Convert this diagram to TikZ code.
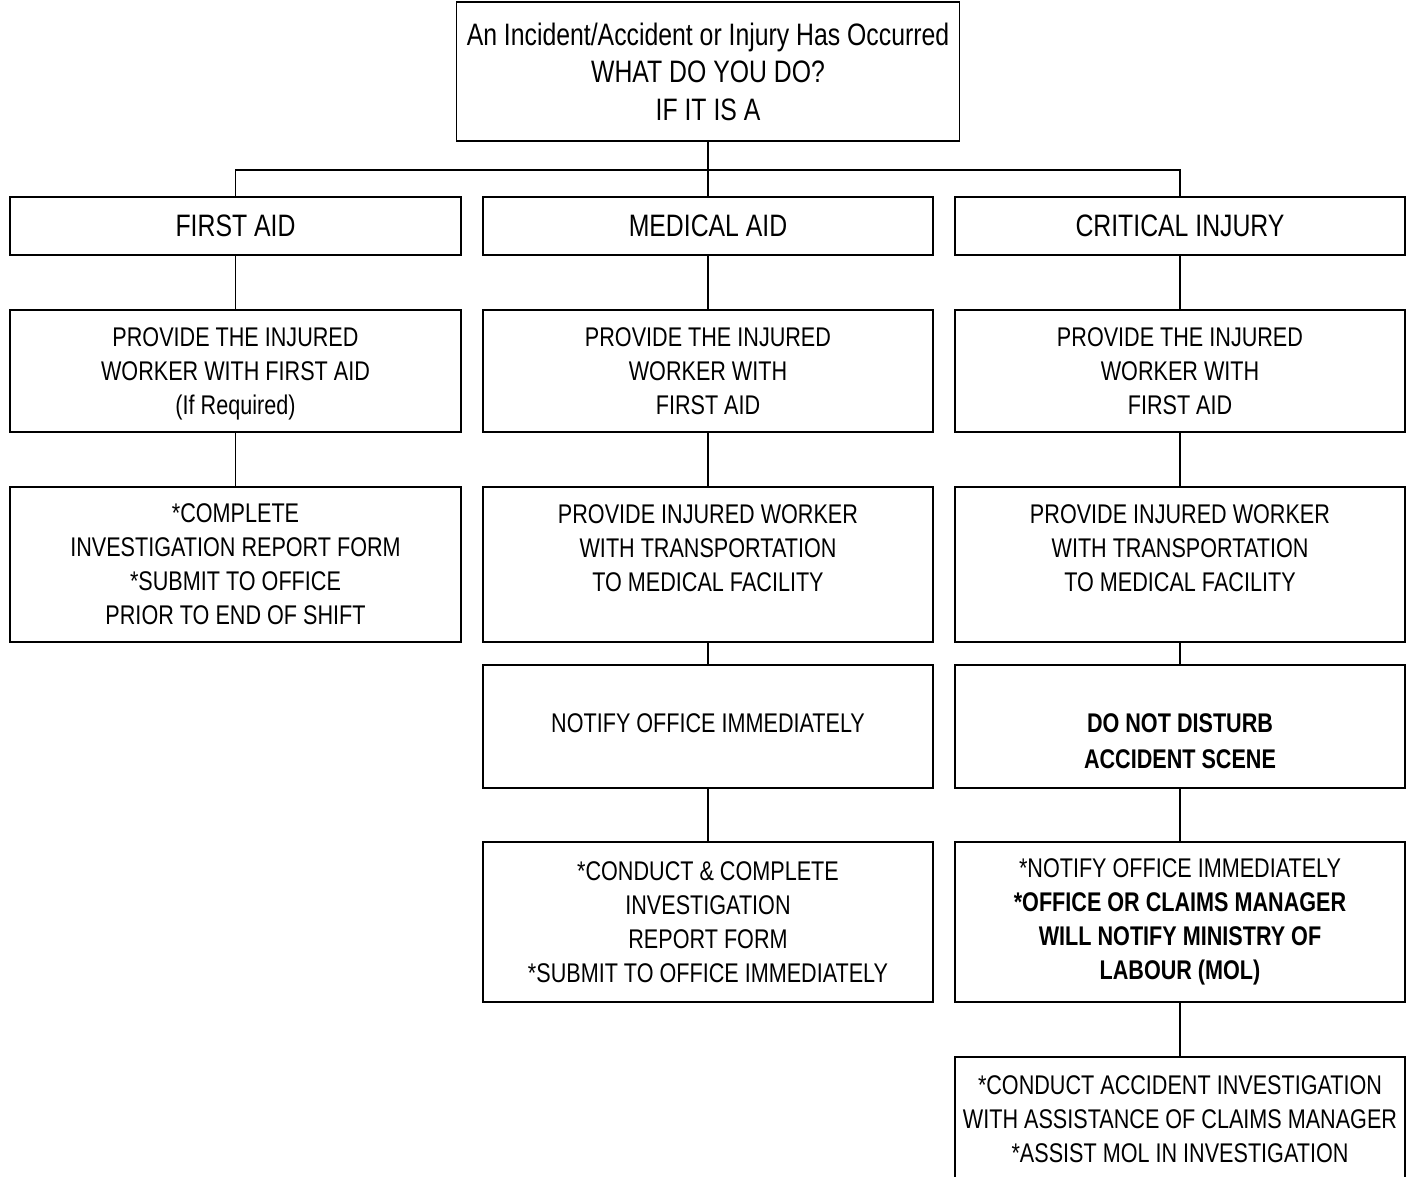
\documentclass[tikz,border=0pt]{standalone}
\usepackage{fontspec}
\setmainfont[FakeStretch=0.80]{Liberation Sans}
\begin{document}
\begin{tikzpicture}[x=1pt,y=-1pt,
    flowBox/.style={rectangle,draw=black,line width=1.7pt,inner sep=0pt,outer sep=0pt,align=center,font=\fontsize{27}{34}\selectfont},
    flowHead/.style={flowBox,font=\fontsize{31}{37.5}\selectfont},
    flowLine/.style={line width=1.7pt},
]
\useasboundingbox (0,0) rectangle (1411,1177);
% top question
\node[flowHead,minimum width=503pt,minimum height=139pt] (top) at (708,71.5) {An Incident/Accident or Injury Has Occurred\\WHAT DO YOU DO?\\IF IT IS A};
% row 1
\node[flowHead,minimum width=451pt,minimum height=58pt] (firstAid) at (235.5,226) {FIRST AID};
\node[flowHead,minimum width=450pt,minimum height=58pt] (medAid) at (708,226) {MEDICAL AID};
\node[flowHead,minimum width=450pt,minimum height=58pt] (critical) at (1180,226) {CRITICAL INJURY};
% row 2
\node[flowBox,minimum width=451pt,minimum height=122pt] (faProvide) at (235.5,371) {\mbox{}\\[-9.5pt]PROVIDE THE INJURED\\WORKER WITH FIRST AID\\(If Required)};
\node[flowBox,minimum width=450pt,minimum height=122pt] (maProvide) at (708,371) {PROVIDE THE INJURED\\WORKER WITH\\FIRST AID};
\node[flowBox,minimum width=450pt,minimum height=122pt] (ciProvide) at (1180,371) {PROVIDE THE INJURED\\WORKER WITH\\FIRST AID};
% row 3
\node[flowBox,minimum width=451pt,minimum height=155pt] (faReport) at (235.5,564.5) {*COMPLETE\\INVESTIGATION REPORT FORM\\*SUBMIT TO OFFICE\\PRIOR TO END OF SHIFT};
\node[flowBox,minimum width=450pt,minimum height=155pt] (maTransport) at (708,564.5) {PROVIDE INJURED WORKER\\WITH TRANSPORTATION\\TO MEDICAL FACILITY\\[-12pt]\strut};
\node[flowBox,minimum width=450pt,minimum height=155pt] (ciTransport) at (1180,564.5) {PROVIDE INJURED WORKER\\WITH TRANSPORTATION\\TO MEDICAL FACILITY\\[-12pt]\strut};
% row 4
\node[flowBox,minimum width=450pt,minimum height=123pt] (maNotify) at (708,726.5) {NOTIFY OFFICE IMMEDIATELY\\[-28pt]\mbox{}};
\node[flowBox,minimum width=450pt,minimum height=123pt] (ciScene) at (1180,726.5) {\strut\\[-10pt]\textbf{DO NOT DISTURB}\\[2pt]\textbf{ACCIDENT SCENE}};
% row 5
\node[flowBox,minimum width=450pt,minimum height=160pt] (maReport) at (708,922) {*CONDUCT \& COMPLETE\\INVESTIGATION\\REPORT FORM\\*SUBMIT TO OFFICE IMMEDIATELY};
\node[flowBox,minimum width=450pt,minimum height=160pt] (ciNotify) at (1180,922) {*NOTIFY OFFICE IMMEDIATELY\\\textbf{*OFFICE OR CLAIMS MANAGER}\\\textbf{WILL NOTIFY MINISTRY OF}\\\textbf{LABOUR (MOL)}};
% row 6 (runs off the page)
\node[flowBox,minimum width=450pt,minimum height=124pt] (ciInvest) at (1180,1119) {*CONDUCT ACCIDENT INVESTIGATION\\WITH ASSISTANCE OF CLAIMS MANAGER\\*ASSIST MOL IN INVESTIGATION};
% connectors
\coordinate (bus) at (708,170);
\draw[flowLine] (top.south) -- (bus);
\draw[flowLine] (firstAid.north) |- (bus) -| (critical.north);
\draw[flowLine] (bus) -- (medAid.north);
\foreach \a/\b in {firstAid/faProvide,faProvide/faReport,medAid/maProvide,maProvide/maTransport,maTransport/maNotify,maNotify/maReport,critical/ciProvide,ciProvide/ciTransport,ciTransport/ciScene,ciScene/ciNotify,ciNotify/ciInvest}
  \draw[flowLine] (\a.south) -- (\b.north);
\end{tikzpicture}
\end{document}
